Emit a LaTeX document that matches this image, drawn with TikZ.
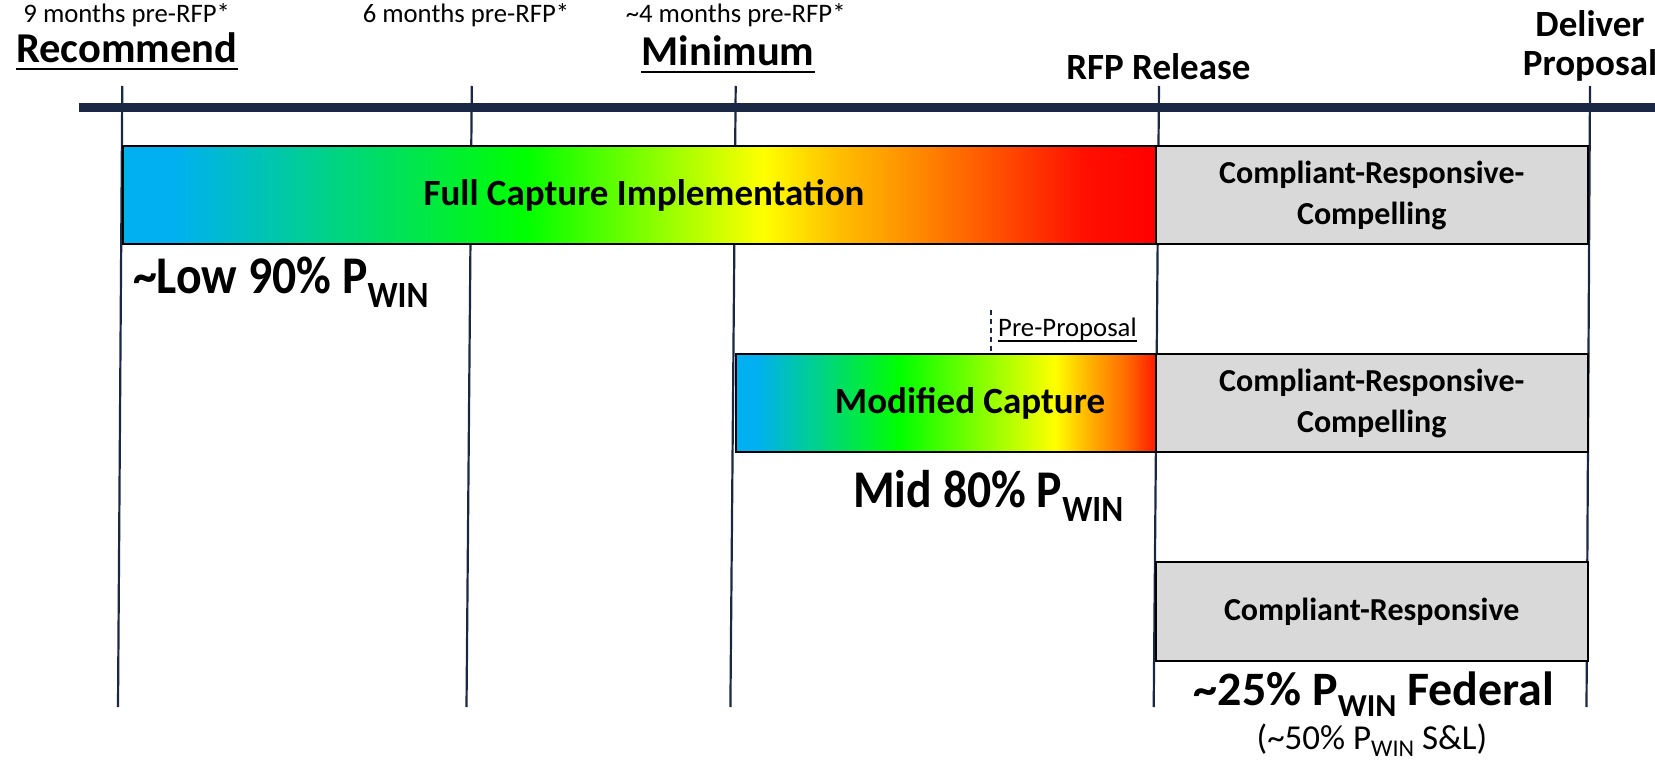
\documentclass[tikz,border=0pt]{standalone}
\usepackage{fontspec}
\usepackage{graphicx}
\setmainfont{Carlito}
\usetikzlibrary{calc}

\definecolor{navy}{HTML}{1B2845}
\definecolor{boxgray}{HTML}{D9D9D9}
\definecolor{cblue}{HTML}{00B0F0}
\definecolor{cgreen}{HTML}{00FF00}
\definecolor{cyellow}{HTML}{FFFF00}
\definecolor{corangeA}{HTML}{FFC000}
\definecolor{corangeB}{HTML}{FF9000}
\definecolor{corangeC}{HTML}{FF4500}
\definecolor{credA}{HTML}{FF1000}
\definecolor{cred}{HTML}{FF0000}
\definecolor{corangeD}{HTML}{FFB300}
\definecolor{corangeE}{HTML}{FF6A00}
\definecolor{credB}{HTML}{FF1A00}

% blue -> green -> yellow -> red, the middle 25bp..75bp spans the box
\pgfdeclarehorizontalshading{fullcapshade}{100bp}{%
  color(0bp)=(cblue); color(25bp)=(cblue); color(27.5bp)=(cblue);
  color(44.5bp)=(cgreen); color(56bp)=(cyellow); color(59.5bp)=(corangeA);
  color(63bp)=(corangeB); color(68bp)=(corangeC); color(71.5bp)=(credA);
  color(75bp)=(cred); color(100bp)=(cred)}
\pgfdeclarehorizontalshading{modcapshade}{100bp}{%
  color(0bp)=(cblue); color(25bp)=(cblue); color(27.5bp)=(cblue);
  color(44.5bp)=(cgreen); color(63bp)=(cyellow); color(67bp)=(corangeD);
  color(71.5bp)=(corangeE); color(75bp)=(credB); color(100bp)=(credB)}

% subscript "WIN" of a given size, lowered by a given amount
\newcommand{\winsub}[2]{\raisebox{-#2}{\fontsize{#1}{#1}\selectfont WIN}}

\tikzset{
  vline/.style={draw=navy, line width=2.2pt},
  timebar/.style={draw=navy, line width=9pt},
  capbox/.style={draw=black, line width=2pt, inner sep=0pt},
  graybox/.style={capbox, fill=boxgray, align=center,
    font=\bfseries\fontsize{32}{41}\selectfont},
  captext/.style={inner sep=0pt, font=\bfseries\fontsize{37}{44}\selectfont},
  smalllbl/.style={inner sep=0pt, anchor=base, font=\fontsize{26.7}{32}\selectfont},
  headlbl/.style={inner sep=0pt, anchor=base, font=\bfseries\fontsize{42.5}{50}\selectfont},
  milelbl/.style={inner sep=0pt, anchor=base, font=\bfseries\fontsize{37}{44}\selectfont},
  pwinlbl/.style={inner sep=0pt, anchor=base west, font=\bfseries\fontsize{53}{60}\selectfont},
  uline/.style={draw=black, line width=2.5pt},
  thinuline/.style={draw=black, line width=1.5pt},
  ppdash/.style={draw=navy, line width=2pt, dash pattern=on 5pt off 4pt},
}

\begin{document}
\begin{tikzpicture}[x=1pt, y=-1pt]
\useasboundingbox (0,0) rectangle (1655,762);

% milestone lines
\coordinate (t1) at (122.3,86);  \coordinate (b1) at (118,707);
\coordinate (t2) at (471.8,86);  \coordinate (b2) at (466.5,707);
\coordinate (t3) at (735.7,86);  \coordinate (b3) at (730.4,707);
\coordinate (t4) at (1159,86);   \coordinate (b4) at (1153.7,707);
\coordinate (t5) at (1590,86);   \coordinate (b5) at (1586.5,707);
\foreach \i in {1,...,5} { \draw[vline] (t\i) -- (b\i); }

% timeline
\coordinate (tl0) at (79,108);
\coordinate (tl1) at (1655,108);
\draw[timebar] (tl0) -- (tl1);

% milestone labels
\node[smalllbl] (m9) at (126.7,23) {9 months pre-RFP*};
\node[smalllbl] (m6) at (466,23) {6 months pre-RFP*};
\node[smalllbl] (m4) at (735.7,23) {\textasciitilde4 months pre-RFP*};
\node[headlbl] (rec) at (126.7,63) {Recommend};
\draw[uline] ($(rec.base west)+(0,6)$) -- ($(rec.base east)+(0,6)$);
\node[headlbl] (mini) at (728,66) {Minimum};
\draw[uline] ($(mini.base west)+(0,6)$) -- ($(mini.base east)+(0,6)$);
\node[milelbl] (rfp) at (1158.4,80) {RFP Release};
\node[milelbl] (deliver) at (1590,37) {Deliver};
\node[milelbl] (proposal) at (1590,76) {Proposal};

% full capture row
\node[capbox, shading=fullcapshade, minimum width=1033pt, minimum height=98pt]
  (fullcap) at (639.5,195) {};
\node[captext] (fulltxt) at (644,195) {Full Capture Implementation};
\node[graybox, minimum width=431.5pt, minimum height=98pt] (gray1) at (1371.75,195)
  {Compliant-Responsive-\\Compelling};
\node[pwinlbl] (low90) at (133,293)
  {\scalebox{0.9}[1]{\textasciitilde Low 90\% P\winsub{37}{14pt}}};

% modified capture row
\coordinate (ppTop) at (991,310);
\node[capbox, shading=modcapshade, minimum width=420.3pt, minimum height=98pt]
  (modcap) at (945.85,403) {};
\draw[ppdash] (ppTop) -- (ppTop |- modcap.north);
\node[smalllbl, anchor=base west] (prep) at (998,336) {Pre-Proposal};
\draw[thinuline] ($(prep.base west)+(0,5)$) -- ($(prep.base east)+(0,5)$);
\node[captext] (modtxt) at (970,403) {Modified Capture};
\node[graybox, minimum width=431.5pt, minimum height=98pt] (gray2) at (1371.75,403)
  {Compliant-Responsive-\\Compelling};
\node[pwinlbl] (mid80) at (853,507.7)
  {\scalebox{0.9}[1]{Mid 80\% P\winsub{37}{14pt}}};

% no-capture row
\node[graybox, minimum width=431.5pt, minimum height=99pt] (gray3) at (1371.75,611.5)
  {Compliant-Responsive};
\node[inner sep=0pt, anchor=base, font=\bfseries\fontsize{48}{56}\selectfont]
  (fed) at (1374,705) {\textasciitilde25\% P\winsub{32}{11pt} Federal};
\node[inner sep=0pt, anchor=base, font=\fontsize{35}{42}\selectfont]
  (sl) at (1372,749) {(\textasciitilde50\% P\winsub{24}{7pt} S\&L)};
\end{tikzpicture}
\end{document}
